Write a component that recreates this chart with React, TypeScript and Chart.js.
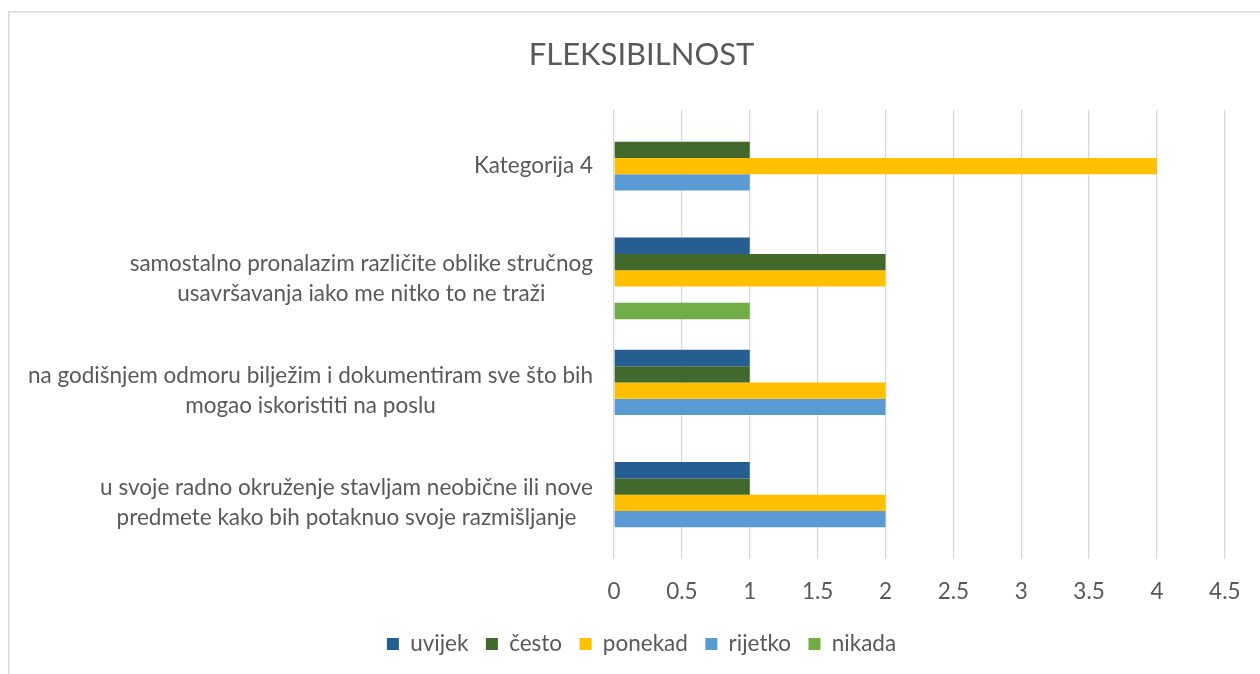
import { useEffect, useRef } from "react";
import { Chart, registerables } from "chart.js";

Chart.register(...registerables);

// ---- data ----
const TITLE = "FLEKSIBILNOST";
const CATEGORIES: string[][] = [
  ["Kategorija 4"],
  ["samostalno pronalazim različite oblike stručnog", "usavršavanja iako me nitko to ne traži"],
  ["na godišnjem odmoru bilježim i dokumentiram sve što bih", "mogao iskoristiti na poslu"],
  ["u svoje radno okruženje stavljam neobične ili nove", "predmete kako bih potaknuo svoje razmišljanje"],
];
const SERIES_NAMES = ["uvijek", "često", "ponekad", "rijetko", "nikada"];
const UVIJEK = [0, 1, 1, 1];
const CESTO = [1, 2, 1, 1];
const PONEKAD = [4, 2, 2, 2];
const RIJETKO = [1, 0, 2, 2];
const NIKADA = [0, 1, 0, 0];
const X_TICKS = [0, 0.5, 1, 1.5, 2, 2.5, 3, 3.5, 4, 4.5];
const X_TICK_LABELS = ["0", "0.5", "1", "1.5", "2", "2.5", "3", "3.5", "4", "4.5"];

// ---- styles ----
const COLORS = ["#255E91", "#43682B", "#FFC000", "#5B9BD5", "#70AD47"];
const TEXT_COLOR = "#595959";
const GRID_COLOR = "#D9D9D9";
const FONT = "Lato";
const LABEL_SIZE = 22.5;
const LABEL_LINE_H = 30;

const yLabelPlugin = {
  id: "yLabels",
  afterDraw(chart: any) {
    const { ctx } = chart;
    const yScale = chart.scales.y;
    ctx.save();
    ctx.font = `${LABEL_SIZE}px ${FONT}`;
    ctx.fillStyle = TEXT_COLOR;
    ctx.textAlign = "center";
    ctx.textBaseline = "middle";
    const right = chart.chartArea.left - 21;
    const labels = chart.data.labels as string[][];
    labels.forEach((lines, i) => {
      const cy = yScale.getPixelForValue(i);
      const widest = Math.max(...lines.map((l) => ctx.measureText(l).width));
      const cx = right - widest / 2;
      lines.forEach((line, j) => {
        ctx.fillText(line, cx, cy + (j - (lines.length - 1) / 2) * LABEL_LINE_H);
      });
    });
    ctx.restore();
  },
};

const borderPlugin = {
  id: "outerBorder",
  beforeDraw(chart: any) {
    const { ctx } = chart;
    ctx.save();
    ctx.strokeStyle = GRID_COLOR;
    ctx.lineWidth = 1.5;
    ctx.strokeRect(8.75, 11.75, 1400, 1000);
    ctx.restore();
  },
};

export default function App() {
  const ref = useRef<HTMLCanvasElement | null>(null);

  useEffect(() => {
    if (!ref.current) return;
    const values = [UVIJEK, CESTO, PONEKAD, RIJETKO, NIKADA];
    const chart = new Chart(ref.current, {
      type: "bar",
      data: {
        labels: CATEGORIES as any,
        datasets: SERIES_NAMES.map((name, i) => ({
          label: name,
          data: values[i],
          backgroundColor: COLORS[i],
          borderWidth: 0,
          categoryPercentage: 0.727,
          barPercentage: 1.0,
        })),
      },
      options: {
        indexAxis: "y",
        animation: false,
        responsive: false,
        devicePixelRatio: 1,
        layout: { padding: { left: 57, right: 34, top: 0, bottom: 8.75 } },
        plugins: {
          title: {
            display: true,
            text: TITLE,
            color: TEXT_COLOR,
            font: { family: FONT, size: 31, weight: "normal" },
            padding: { top: 36.4, bottom: 36.4 },
          },
          legend: {
            position: "bottom",
            labels: {
              boxWidth: 12,
              boxHeight: 12,
              padding: 17.5,
              color: TEXT_COLOR,
              font: { family: FONT, size: LABEL_SIZE },
            },
          },
          tooltip: { enabled: false },
        },
        scales: {
          x: {
            min: 0,
            max: 4.5,
            afterBuildTicks: (scale: any) => {
              scale.ticks = X_TICKS.map((v) => ({ value: v }));
            },
            afterFit: (scale: any) => {
              scale.height = 56.25;
            },
            grid: { color: GRID_COLOR, lineWidth: 1.3, drawTicks: false },
            border: { display: false },
            ticks: {
              padding: 19.5,
              color: TEXT_COLOR,
              font: { family: FONT, size: LABEL_SIZE },
              maxRotation: 0,
              autoSkip: false,
              callback: (_v: any, i: number) => X_TICK_LABELS[i],
            },
          },
          y: {
            afterFit: (scale: any) => {
              scale.width = 557;
            },
            grid: { display: false },
            border: { display: false },
            ticks: { display: false },
          },
        },
      },
      plugins: [borderPlugin, yLabelPlugin],
    });
    return () => chart.destroy();
  }, []);

  return (
    <div style={{ position: "absolute", left: 0, top: 0, width: 1260, height: 674 }}>
      <canvas ref={ref} width={1260} height={674} style={{ width: 1260, height: 674 }} />
    </div>
  );
}
